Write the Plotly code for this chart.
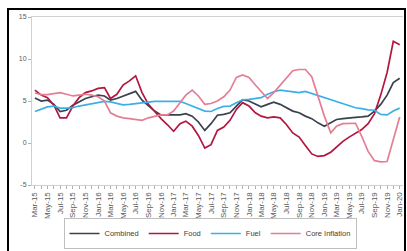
import pandas as pd
import plotly.graph_objects as go

months = [d.strftime("%Y-%m-%d") for d in pd.date_range("2015-03-01", periods=59, freq="MS")]

combined = [5.35, 5.0, 5.1, 4.6, 3.75, 3.9, 4.5, 4.9, 5.3, 5.5, 5.7, 5.6, 5.1, 5.3, 5.55, 5.9, 6.15, 5.1, 4.4, 3.8,
            3.35, 3.35, 3.35, 3.35, 3.5, 3.2, 2.5, 1.5, 2.3, 3.3, 3.4, 3.6, 4.4, 5.15, 5.0, 4.6, 4.3, 4.6, 4.85, 4.6,
            4.2, 3.8, 3.6, 3.2, 2.9, 2.4, 2.0, 2.4, 2.8, 2.9, 3.0, 3.05, 3.1, 3.2, 3.8, 4.6, 5.7, 7.2, 7.7]
food = [6.3, 5.7, 5.4, 4.5, 3.0, 3.0, 4.4, 5.4, 6.0, 6.2, 6.5, 6.6, 5.3, 5.8, 6.9, 7.4, 8.0, 6.0, 4.6, 3.7,
        2.9, 2.2, 1.4, 2.3, 2.6, 2.0, 0.9, -0.6, -0.2, 1.5, 1.9, 2.7, 4.0, 4.8, 4.4, 3.6, 3.2, 3.0, 3.1, 3.0,
        2.2, 1.2, 0.7, -0.3, -1.3, -1.6, -1.5, -1.1, -0.5, 0.2, 0.7, 1.2, 1.6, 2.3, 3.5, 5.7, 8.4, 12.1, 11.7]
fuel = [3.75, 4.0, 4.3, 4.4, 4.15, 4.15, 4.2, 4.4, 4.55, 4.7, 4.85, 4.95, 4.9, 4.7, 4.55, 4.6, 4.7, 4.75, 4.9, 4.95,
        4.95, 4.95, 4.95, 4.95, 4.7, 4.4, 4.1, 3.8, 3.75, 4.1, 4.35, 4.4, 4.8, 5.15, 5.2, 5.3, 5.4, 5.8, 6.1, 6.3,
        6.2, 6.05, 6.0, 6.15, 5.9, 5.6, 5.4, 5.1, 4.9, 4.6, 4.4, 4.2, 4.1, 3.95, 3.9, 3.4, 3.35, 3.8, 4.15]
core = [5.95, 5.75, 5.75, 5.9, 6.0, 5.8, 5.6, 5.7, 5.8, 5.7, 5.5, 5.0, 3.6, 3.2, 3.0, 2.9, 2.8, 2.7, 3.0, 3.2,
        3.35, 3.35, 3.8, 4.8, 5.7, 6.3, 5.6, 4.6, 4.7, 5.0, 5.5, 6.3, 7.8, 8.1, 7.8, 6.9, 6.1, 5.3, 6.0, 6.9,
        7.8, 8.6, 8.75, 8.75, 7.9, 5.6, 3.2, 1.2, 2.0, 2.3, 2.35, 2.35, 0.8, -1.0, -2.1, -2.25, -2.2, 0.3, 3.1]

series_names = ["Combined", "Food", "Fuel", "Core Inflation"]
series_values = [combined, food, fuel, core]
colors = ["#38424f", "#b3163f", "#3cb0e6", "#e57e95"]
y_ticks = [-5, 0, 5, 10, 15]

fig = go.Figure()
for name, vals, col in zip(series_names, series_values, colors):
    fig.add_trace(go.Scatter(x=months, y=vals, name=name, mode="lines",
                             line=dict(color=col, width=1.7)))

# plot area px: x 32..403, y 17..185
W, H = 407, 251
L, R, T, B = 32, 4, 17, 66
pw, ph = W - L - R, H - T - B

def px_x(p):
    return (p - L) / pw

def px_y(p):
    return (H - B - p) / ph

fig.update_layout(
    width=W, height=H,
    margin=dict(l=L, r=R, t=T, b=B, autoexpand=False),
    paper_bgcolor="white", plot_bgcolor="white",
    font=dict(family="Liberation Sans, Arial, sans-serif", size=7, color="#595959"),
    showlegend=True,
    legend=dict(orientation="h", x=px_x(210), xanchor="center", y=px_y(249), yanchor="bottom",
                bordercolor="#bfbfbf", borderwidth=1, font=dict(size=7.5, color="#404040"),
                itemwidth=30, tracegroupgap=0),
    xaxis=dict(
        range=["2015-02-15", "2020-01-17"], autorange=False, automargin=False,
        tickmode="linear", tick0="2015-03-01", dtick="M2", tickformat="%b-%y",
        tickangle=-90, showgrid=False, zeroline=False,
        showline=True, linecolor="#d0d0d0", linewidth=1, mirror=True,
        ticks="outside", ticklen=3, tickcolor="#b0b0b0",
        minor=dict(dtick="M1", ticks="outside", ticklen=3, tickcolor="#b0b0b0"),
        tickfont=dict(size=8, color="#595959"),
    ),
    yaxis=dict(
        range=[-5, 15], autorange=False, automargin=False,
        tickvals=y_ticks, ticktext=[str(v) for v in y_ticks],
        showgrid=False, zeroline=False, showline=True, linecolor="#d0d0d0", linewidth=1,
        ticks="outside", ticklen=3, tickcolor="#b0b0b0",
        tickfont=dict(size=7, color="#595959"),
    ),
)

# outer black frame of the screenshot
fig.add_shape(type="rect", xref="paper", yref="paper",
              x0=px_x(8), x1=px_x(405), y0=px_y(253), y1=px_y(9),
              line=dict(color="black", width=2), layer="above")

fig.write_html("out.html", config={"displayModeBar": False},
               post_script=["document.body.style.margin='0px';document.body.style.overflow='hidden';"])
